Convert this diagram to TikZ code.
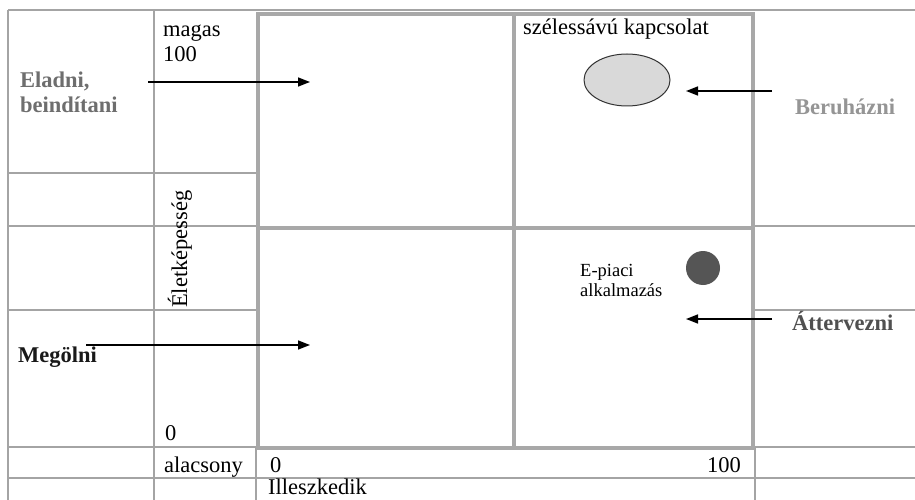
\documentclass[tikz,border=0pt]{standalone}
\usepackage{fontspec}
\setmainfont{Liberation Serif}
\usetikzlibrary{arrows.meta,shapes.geometric}
\definecolor{gridc}{HTML}{A4A4A4}
\definecolor{boxc}{HTML}{A8A8A8}
\definecolor{eladc}{HTML}{6E6E6E}
\definecolor{beruc}{HTML}{959595}
\definecolor{attc}{HTML}{505050}
\definecolor{ellc}{HTML}{D9D9D9}
\definecolor{dotc}{HTML}{555555}
\tikzset{
  thin grid/.style={draw=gridc, line width=1.4pt},
  thick box/.style={draw=boxc, line width=4.5pt},
  lbl/.style={anchor=base west, inner sep=0pt, font=\fontsize{22.5}{25}\selectfont},
  small lbl/.style={anchor=base west, inner sep=0pt, font=\fontsize{18.5}{21}\selectfont},
  bold lbl/.style={lbl, font=\fontsize{22.5}{25}\selectfont\bfseries},
  arr/.style={draw=black, line width=1.5pt, -{Triangle[length=12pt,width=9pt]}},
}
\begin{document}
\begin{tikzpicture}[x=1pt,y=-1pt]
\useasboundingbox[fill=white] (0,0) rectangle (915,500);
% thin grid lines
\draw[thin grid] (8,10) -- (915,10);
\draw[thin grid] (8,10) -- (8,500);
\draw[thin grid] (154,10) -- (154,500);
\draw[thin grid] (256,447) -- (256,500);
\draw[thin grid] (755,447) -- (755,500);
\draw[thin grid] (8,173) -- (256,173);
\draw[thin grid] (8,226) -- (256,226);
\draw[thin grid] (8,310) -- (256,310);
\draw[thin grid] (755,226) -- (915,226);
\draw[thin grid] (755,310) -- (915,310);
\draw[thin grid] (8,447) -- (915,447);
\draw[thin grid] (8,478) -- (915,478);
% thick box
\draw[thick box] (258,14) rectangle (753,448);
\draw[thick box] (514,14) -- (514,448);
\draw[thick box] (258,228) -- (753,228);
% texts
\node[lbl] (magas) at (163,37) {magas};
\node[lbl] (m100) at (163,62) {100};
\node[bold lbl, text=eladc] (eladni) at (20,88) {Eladni,};
\node[bold lbl, text=eladc] (beind) at (20,113) {beindítani};
\node[lbl] (szeles) at (523,35) {szélessávú kapcsolat};
\node[bold lbl, text=beruc] (beruh) at (795,115) {Beruházni};
\node[lbl, rotate=90] (eletk) at (187,308) {Életképesség};
\node[bold lbl, text=black!90] (megol) at (18,362) {Megölni};
\node[lbl] (zero1) at (165,440) {0};
\node[lbl] (alac) at (164,472) {alacsony};
\node[lbl] (zero2) at (270,472) {0};
\node[lbl, anchor=base east] (h100) at (741,472) {100};
\node[lbl] (illesz) at (268,494) {Illeszkedik};
\node[small lbl] (epiaci) at (580,276) {E-piaci};
\node[small lbl] (alkalm) at (580,296) {alkalmazás};
\node[bold lbl, text=attc] (atterv) at (792,330) {Áttervezni};
% markers
\node[ellipse, draw=black!80, line width=1pt, fill=ellc, minimum width=86pt, minimum height=52pt, inner sep=0pt] (szell) at (627,80) {};
\node[circle, fill=dotc, minimum size=34pt, inner sep=0pt] (edot) at (703,268) {};
% arrow end points
\coordinate (a1s) at (148,82);
\coordinate (a1e) at (310,82);
\coordinate (a2s) at (86,345);
\coordinate (a2e) at (310,345);
\coordinate (a3s) at (772,91);
\coordinate (a3e) at (686,91);
\coordinate (a4s) at (772,319);
\coordinate (a4e) at (686,319);
\draw[arr] (a1s) -- (a1e);
\draw[arr] (a2s) -- (a2e);
\draw[arr] (a3s) -- (a3e);
\draw[arr] (a4s) -- (a4e);
\end{tikzpicture}
\end{document}
